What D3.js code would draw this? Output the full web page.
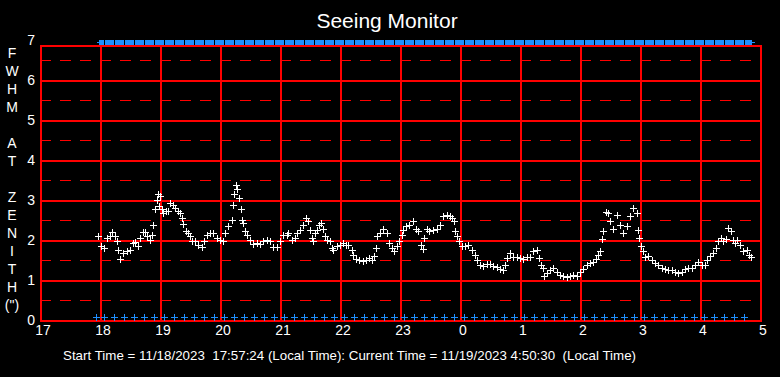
<!DOCTYPE html>
<html><head><meta charset="utf-8">
<script src="https://cdn.jsdelivr.net/npm/d3@7"></script>
<style>
html,body{margin:0;padding:0;background:#000;}
svg{display:block;}
text{font-family:"Liberation Sans",Arial,sans-serif;fill:#fff;}
</style></head>
<body>
<svg id="chart" width="780" height="377"></svg>
<script>
// ---- data (minutes after 17:00 local, FWHM arcsec) ----
const minutes = [58,61,64,67,70,72,75,77,77.5,80,83,87,90,93,95,98,100,103,105,107,110,112,113,115,117,118,119,120,122,123,126,128,130,133,135,138,140,142,143,146,148,150,152,155,158,162,164,167,170,173,177,180,183,185,188,192,193,194,196,197,199,201,202,203,205,207,210,213,217,220,223,227,
230,233,237,240,243,247,248,252,255,257,260,263,266,268,270,272,273,275,277,279,281,283,285,287,290,292,293,297,300,303,306,308,312,313,316,319,323,326,329,332,334,336,337,340,343,347,349,352,354,357,359,362,363,366,369,373,376,378,381,383,384,387,389,393,397,
400,403,407,410,412,414,415,417,419,422,425,428,432,435,437,440,443,447,450,453,457,460,463,465,467,470,473,477,480,483,487,490,493,497,499,501,503,504,507,510,513,517,520,523,527,530,533,537,540,543,547,550,553,556,558,
560,562,563,566,568,570,573,577,580,583,587,590,593,597,598,599,601,603,605,608,612,615,618,622,625,628,632,635,638,642,645,648,652,655,658,662,665,667,670,673,676,678,681,683,686,688,691,693,695,697,700,703,707,709,711];
const fwhm = [2.11,1.86,1.80,2.05,2.09,2.20,2.09,1.97,1.76,1.52,1.67,1.72,1.76,1.92,1.95,1.86,2.05,2.20,2.20,2.09,2.00,2.13,2.38,2.77,3.00,3.16,2.86,3.09,2.78,2.67,2.72,2.72,2.92,2.88,2.80,2.72,2.67,2.55,2.40,2.22,2.17,2.09,1.97,1.97,1.88,1.82,1.97,2.13,2.17,2.17,2.05,2.00,1.97,2.17,2.34,2.50,2.88,3.16,3.38,3.27,3.05,2.77,2.50,2.43,2.22,2.13,2.00,1.90,1.92,1.90,1.97,2.00,
1.97,1.82,1.82,1.97,2.13,2.13,2.17,2.00,2.05,2.17,2.26,2.38,2.55,2.47,2.26,2.05,1.97,2.17,2.26,2.38,2.43,2.28,2.09,2.00,1.97,1.80,1.76,1.86,1.88,1.92,1.88,1.88,1.76,1.63,1.52,1.49,1.47,1.49,1.55,1.51,1.61,1.80,2.09,2.17,2.28,2.17,1.92,1.80,1.72,1.84,1.97,2.13,2.26,2.36,2.38,2.47,2.28,2.22,1.88,1.78,2.05,2.28,2.22,2.26,2.28,
2.38,2.60,2.62,2.60,2.55,2.47,2.22,2.09,1.97,1.84,1.84,1.88,1.76,1.63,1.51,1.38,1.34,1.41,1.41,1.36,1.32,1.27,1.24,1.38,1.55,1.67,1.57,1.57,1.55,1.52,1.57,1.57,1.72,1.76,1.55,1.38,1.29,1.11,1.17,1.26,1.29,1.21,1.13,1.09,1.07,1.11,1.13,1.11,1.21,1.27,1.38,1.42,1.44,1.52,1.63,
1.72,2.03,2.22,2.70,2.68,2.47,2.28,2.63,2.38,2.17,2.34,2.59,2.80,2.68,2.26,2.05,1.86,1.72,1.57,1.59,1.51,1.42,1.38,1.29,1.27,1.26,1.26,1.21,1.17,1.19,1.27,1.29,1.29,1.38,1.44,1.38,1.38,1.51,1.61,1.67,1.80,1.97,2.05,1.97,2.03,2.30,2.22,2.00,1.92,2.00,1.88,1.72,1.74,1.63,1.57];
// status marker times (minutes after 17:00)
const statusMinutes = [56,64,74,84,94,104,114,124,134,144,154,164,174,184,194,204,214,224,234,244,254,264,274,284,294,304,314,324,334,344,354,364,374,384,394,404,414,424,434,444,454,464,474,484,494,504,514,524,534,544,554,564,574,584,594,604,614,624,634,644,654,664,674,684,694,704];
const statusEnd = 712;
const xTickMinutes = [0,60,120,180,240,300,360,420,480,540,600,660,720];
const xTickLabels = ["17","18","19","20","21","22","23","0","1","2","3","4","5"];
const yTicks = [0,1,2,3,4,5,6,7];
const yHalfTicks = [0.5,1.5,2.5,3.5,4.5,5.5,6.5];
const yLabelLetters = ["F","W","H","M","","A","T","","Z","E","N","I","T","H","(\")"];
const titleText = "Seeing Monitor";
const footerText = "Start Time = 11/18/2023  17:57:24 (Local Time): Current Time = 11/19/2023 4:50:30  (Local Time)";

// ---- drawing ----
const svg = d3.select("#chart");
const W = 780, H = 377;
svg.append("rect").attr("width", W).attr("height", H).attr("fill", "#000");

const x = d3.scaleLinear().domain([0, 720]).range([40, 760]);
const y = d3.scaleLinear().domain([0, 7]).range([320, 40]);
const plotTop = 45;
const red = "#ff0000", blue = "#1e8fff";

const g = svg.append("g").attr("shape-rendering", "crispEdges");

// dashed half lines
g.selectAll("line.half").data(yHalfTicks).enter().append("line")
  .attr("x1", x(0)).attr("x2", x(720))
  .attr("y1", d => Math.round(y(d)) + 0.5).attr("y2", d => Math.round(y(d)) + 0.5)
  .attr("stroke", red).attr("stroke-width", 1).attr("stroke-dasharray", "11,9");

// solid horizontal lines
g.selectAll("line.full").data(yTicks.filter(d => d > 0 && d < 7)).enter().append("line")
  .attr("x1", x(0)).attr("x2", x(720))
  .attr("y1", d => Math.round(y(d)) + 0.5).attr("y2", d => Math.round(y(d)) + 0.5)
  .attr("stroke", red).attr("stroke-width", 2);

// vertical hour lines
g.selectAll("line.v").data(xTickMinutes).enter().append("line")
  .attr("x1", d => Math.round(x(d)) + 0.5).attr("x2", d => Math.round(x(d)) + 0.5)
  .attr("y1", plotTop).attr("y2", y(0))
  .attr("stroke", red).attr("stroke-width", 2);

// frame top/bottom
g.append("line").attr("x1", x(0)).attr("x2", x(720) + 1.5)
  .attr("y1", plotTop + 0.5).attr("y2", plotTop + 0.5).attr("stroke", red).attr("stroke-width", 2);
g.append("line").attr("x1", x(0)).attr("x2", x(720) + 1.5)
  .attr("y1", y(0) + 0.5).attr("y2", y(0) + 0.5).attr("stroke", red).attr("stroke-width", 2);

// top status band
const bounds = statusMinutes.concat([statusEnd]);
const segs = d3.pairs(bounds);
g.selectAll("rect.band").data(segs).enter().append("rect")
  .attr("x", (d, i) => i === 0 ? x(d[0]) + 3 : x(d[0]) + 1)
  .attr("width", (d, i) => x(d[1]) - x(d[0]) - (i === 0 ? 3 : 1))
  .attr("y", 40).attr("height", 5).attr("fill", blue);
g.append("rect").attr("x", x(statusMinutes[0]) + 1).attr("width", 3).attr("y", 42).attr("height", 1).attr("fill", blue);
g.append("rect").attr("x", x(statusEnd)).attr("width", 3).attr("y", 42).attr("height", 1).attr("fill", blue);

// plus marker helper (filled rects for crisp pixels)
function plus(sel, cx, cy, color) {
  const px = Math.round(cx), py = Math.round(cy);
  sel.append("rect").attr("x", px - 3).attr("y", py).attr("width", 7).attr("height", 1).attr("fill", color);
  sel.append("rect").attr("x", px).attr("y", py - 3).attr("width", 1).attr("height", 7).attr("fill", color);
}

// data points
const pts = g.append("g");
minutes.forEach((m, i) => plus(pts, x(m), y(fwhm[i]), "#fff"));

// bottom status pluses
const bottom = g.append("g");
statusMinutes.forEach(m => plus(bottom, x(m), 317, blue));

// y tick labels
svg.selectAll("text.yt").data(yTicks).enter().append("text")
  .attr("x", 35).attr("y", d => y(d) + 5).attr("text-anchor", "end")
  .attr("font-size", 14).text(d => d);

// x tick labels
svg.selectAll("text.xt").data(xTickMinutes).enter().append("text")
  .attr("x", d => x(d) + 3).attr("y", 335).attr("text-anchor", "middle")
  .attr("font-size", 14).text((d, i) => xTickLabels[i]);

// y axis title (stacked letters)
svg.selectAll("text.yl").data(yLabelLetters).enter().append("text")
  .attr("x", 12).attr("y", (d, i) => 58 + i * 18).attr("text-anchor", "middle")
  .attr("font-size", 14).text(d => d);

// title
svg.append("text").attr("x", 387).attr("y", 28).attr("text-anchor", "middle")
  .attr("font-size", 21).text(titleText);

// footer
svg.append("text").attr("x", 63).attr("y", 360).attr("font-size", 13.3)
  .attr("textLength", 573).attr("lengthAdjust", "spacing")
  .style("white-space", "pre").text(footerText);
</script>
</body></html>
